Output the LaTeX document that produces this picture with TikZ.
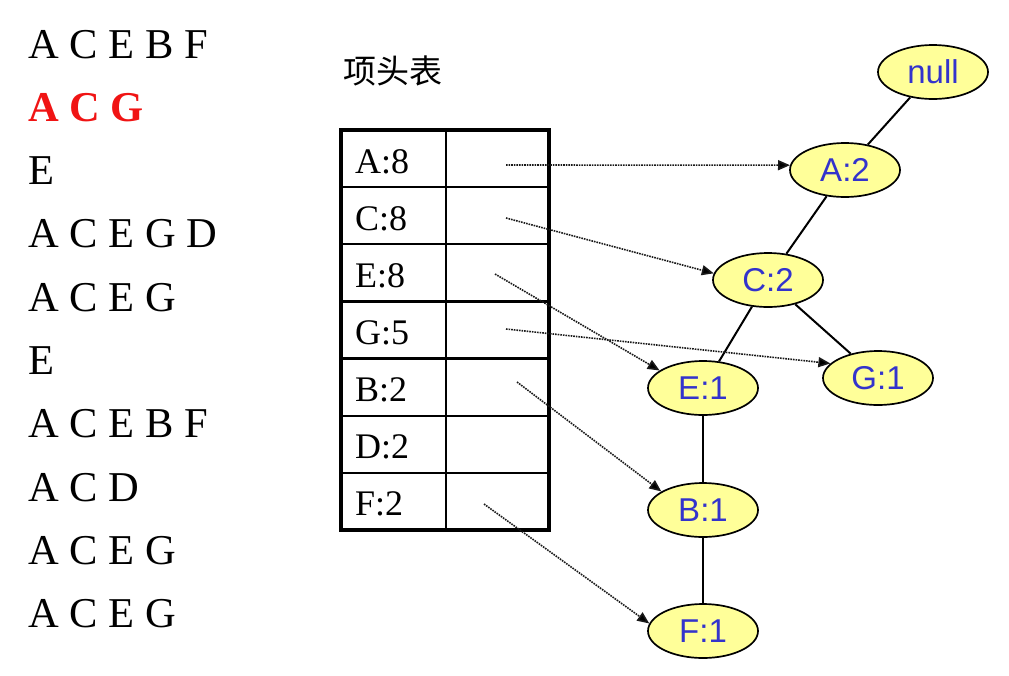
\documentclass[tikz,border=0pt]{standalone}
\usepackage{fontspec}
\setmainfont{Liberation Serif}
\newfontfamily\arialf{Liberation Sans}
\newfontfamily\cjkf{Noto Sans CJK SC}
\usetikzlibrary{shapes.geometric,arrows.meta}
\definecolor{nodefill}{RGB}{255,255,153}
\definecolor{nodetext}{RGB}{51,51,204}
\definecolor{redtxt}{RGB}{240,20,20}
\begin{document}
\begin{tikzpicture}[x=1pt,y=-1pt,
  seq/.style={anchor=base west,inner sep=0pt,font=\fontsize{42.5}{48}\selectfont},
  tab/.style={anchor=base west,inner sep=0pt,font=\fontsize{36}{40}\selectfont},
  tnode/.style={ellipse,draw=black,line width=1.7pt,fill=nodefill,minimum width=110pt,minimum height=54pt,inner sep=0pt,text=nodetext,font=\arialf\fontsize{33}{36}\selectfont},
  tedge/.style={line width=2pt},
  ptr/.style={line width=1.6pt,draw=black!90,dash pattern=on 1.6pt off 1pt,-{Triangle[length=12pt,width=10pt,fill=black]}}
]
\useasboundingbox (0,0) rectangle (1009,675);
% transaction list
\node[seq] (s1) at (28,58) {A C E B F};
\node[seq,text=redtxt,font=\bfseries\fontsize{42.5}{48}\selectfont] (s2) at (28,121.3) {A C G};
\node[seq] (s3) at (28,184.6) {E};
\node[seq] (s4) at (28,247.9) {A C E G D};
\node[seq] (s5) at (28,311.2) {A C E G};
\node[seq] (s6) at (28,374.5) {E};
\node[seq] (s7) at (28,437.8) {A C E B F};
\node[seq] (s8) at (28,501.1) {A C D};
\node[seq] (s9) at (28,564.4) {A C E G};
\node[seq] (s10) at (28,627.7) {A C E G};
% header table
\node[font=\cjkf\fontsize{33}{36}\selectfont,inner sep=0pt] (hdr) at (393,71) {项头表};
\foreach \yy in {187.1,244.3,301.4,358.6,415.7,472.9} \draw[line width=2.3pt] (341,\yy) -- (549,\yy);
\draw[line width=2.3pt] (446,130) -- (446,530);
\draw[line width=3.6pt] (341,130) rectangle (549,530);
\node[tab] (ta) at (355,173) {A:8};
\node[tab] (tc) at (355,230.1) {C:8};
\node[tab] (te) at (355,287.3) {E:8};
\node[tab] (tg) at (355,344.4) {G:5};
\node[tab] (tb) at (355,401.6) {B:2};
\node[tab] (td) at (355,458.7) {D:2};
\node[tab] (tf) at (355,515.9) {F:2};
% tree
\node[tnode] (null) at (933,72) {null};
\node[tnode] (a2) at (845,170) {A:2};
\node[tnode] (c2) at (768,280) {C:2};
\node[tnode] (g1) at (878,378) {G:1};
\node[tnode] (e1) at (703,388) {E:1};
\node[tnode] (b1) at (703,510) {B:1};
\node[tnode] (f1) at (703,631) {F:1};
\draw[tedge] (null) -- (a2);
\draw[tedge] (a2) -- (c2);
\draw[tedge] (c2) -- (e1);
\draw[tedge] (c2) -- (g1);
\draw[tedge] (e1) -- (b1);
\draw[tedge] (b1) -- (f1);
% pointers
\coordinate (pa) at (506,165);
\coordinate (pc) at (506,218);
\coordinate (pe) at (495,274);
\coordinate (pg) at (506,329);
\coordinate (pb) at (517,382);
\coordinate (pf) at (484,504);
\draw[ptr] (pa) -- (a2.175);
\draw[ptr] (pc) -- (c2.173);
\draw[ptr] (pe) -- (e1.158);
\draw[ptr] (pg) -- (g1.163);
\draw[ptr] (pb) -- (b1.156);
\draw[ptr] (pf) -- (f1.172);
\end{tikzpicture}
\end{document}
